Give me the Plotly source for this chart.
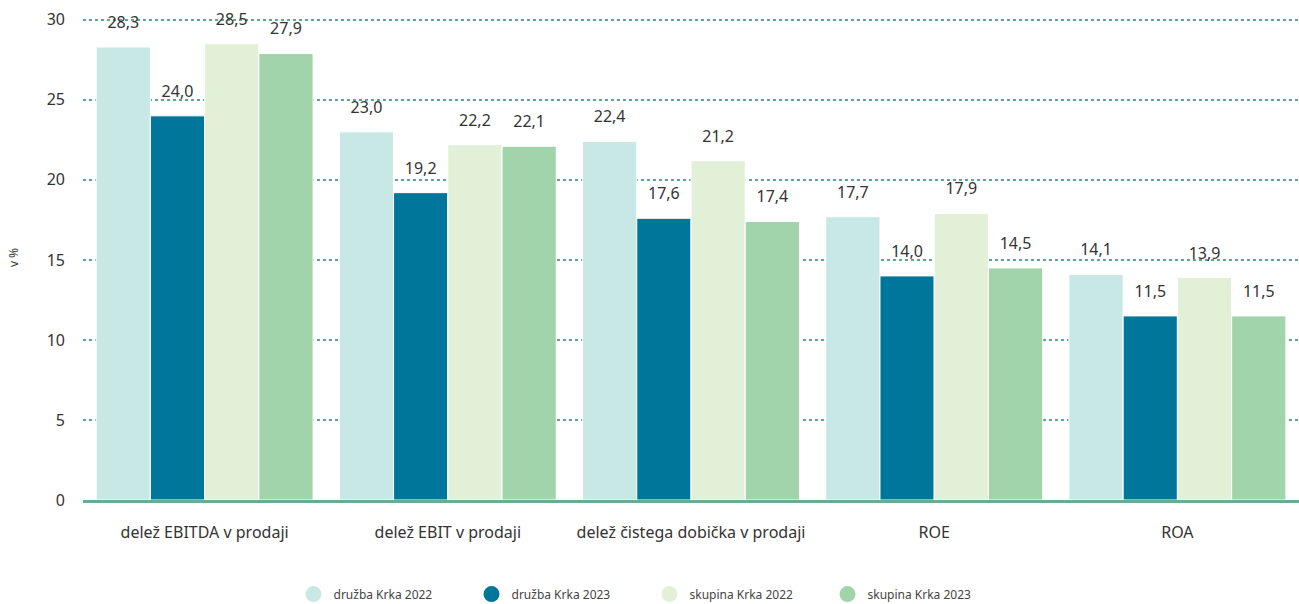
import plotly.graph_objects as go

# kazalniki
categories = ["delež EBITDA v prodaji", "delež EBIT v prodaji",
              "delež čistega dobička v prodaji", "ROE", "ROA"]
series_names = ["družba Krka 2022", "družba Krka 2023",
                "skupina Krka 2022", "skupina Krka 2023"]
druzba_2022 = [28.3, 23.0, 22.4, 17.7, 14.1]
druzba_2023 = [24.0, 19.2, 17.6, 14.0, 11.5]
skupina_2022 = [28.5, 22.2, 21.2, 17.9, 13.9]
skupina_2023 = [27.9, 22.1, 17.4, 14.5, 11.5]
y_ticks = [0, 5, 10, 15, 20, 25, 30]

colors = ["#c8e8e6", "#00779a", "#e2f0d8", "#a2d4ab"]
values = [druzba_2022, druzba_2023, skupina_2022, skupina_2023]

fig = go.Figure()

for name, vals, col in zip(series_names, values, colors):
    fig.add_trace(go.Bar(
        x=categories, y=vals, name=name, showlegend=False,
        marker=dict(color=col, line=dict(color="white", width=1)),
        texttemplate="<span style='font-size:16px'>%{y:.1f}</span><br> ",
        textposition="outside", cliponaxis=False,
        textfont=dict(size=10, color="#333333"),
    ))

# legend entries with round markers
for name, col in zip(series_names, colors):
    fig.add_trace(go.Scatter(
        x=[None], y=[None], mode="markers", name=name,
        marker=dict(color=col, size=16, symbol="circle"),
    ))

fig.update_layout(
    width=1299, height=604,
    separators=", ",
    font=dict(family="Noto Sans, Open Sans, sans-serif", color="#333333"),
    plot_bgcolor="white", paper_bgcolor="white",
    margin=dict(l=83, r=0, t=15, b=104, autoexpand=False),
    barmode="group", bargap=0.108, bargroupgap=0,
    uniformtext=dict(mode=False),
    legend=dict(orientation="h", xref="container", x=0.5, xanchor="center",
                y=-0.194, yanchor="middle",
                font=dict(size=12, color="#444444"),
                itemwidth=30, tracegroupgap=0, entrywidthmode="pixels",
                entrywidth=133),
    xaxis=dict(showgrid=False, showline=True, linecolor="#6aab92",
               linewidth=3, layer="above traces", ticks="",
               tickfont=dict(size=16, color="#333333"),
               ticklabelstandoff=16),
    yaxis=dict(range=[0, 30.3], tickvals=y_ticks, showgrid=True,
               gridcolor="#5da88b", griddash="dot", gridwidth=1.5,
               zeroline=False, showline=False,
               tickfont=dict(size=16, color="#333333"),
               ticklabelstandoff=17,
               title=dict(text="v %", font=dict(size=12), standoff=25)),
)

fig.write_html("out.html", config={"displayModeBar": False},
               post_script="document.body.style.margin='0';")
